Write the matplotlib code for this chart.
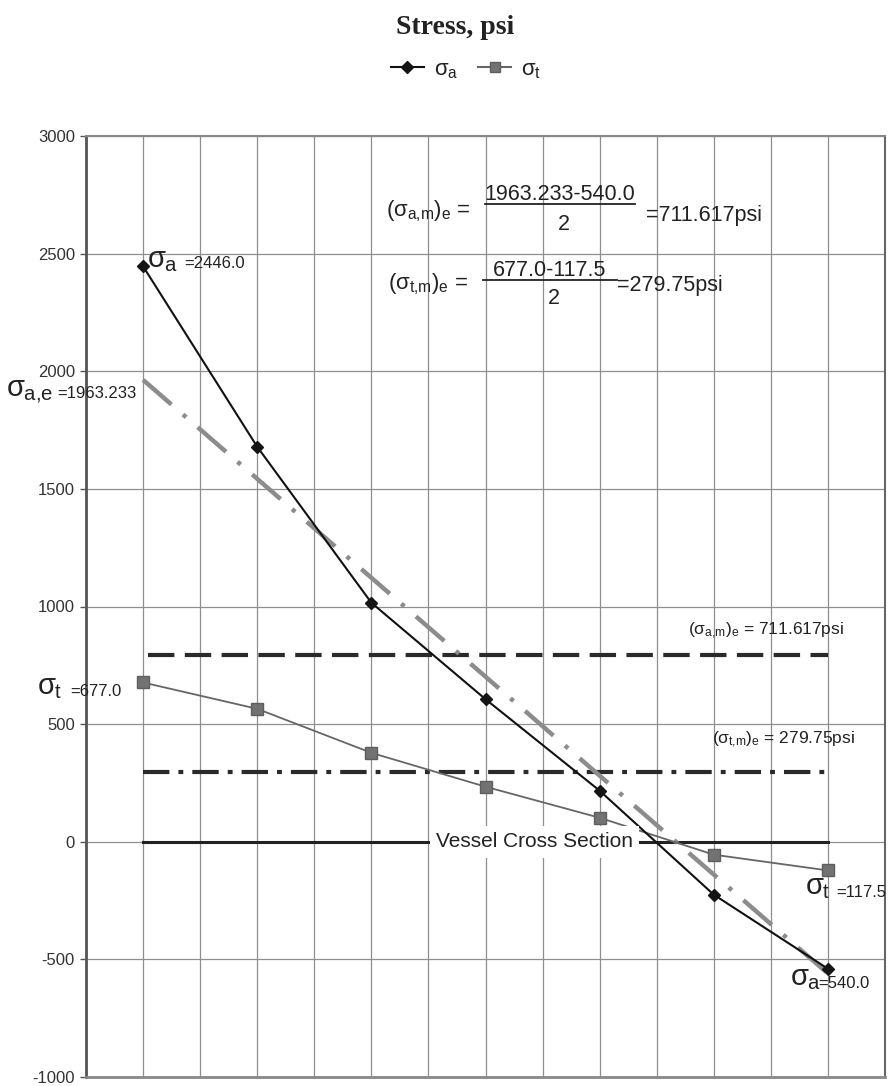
import matplotlib
matplotlib.use("Agg")
import matplotlib.pyplot as plt
from matplotlib.lines import Line2D

# ---------------- data ----------------
x_pos = [1, 3, 5, 7, 9, 11, 13]                      # category positions across section
sigma_a = [2446.0, 1679, 1016, 606, 217, -225, -540.0]  # axial stress, psi
sigma_t = [677.0, 565, 378, 234, 102, -55, -122]        # tangential stress, psi
sigma_ae = [1963.233, -560]                          # linearized equivalent line (ends)
mean_a_level = 795                                    # drawn (sigma_a,m)_e line
mean_t_level = 297                                    # drawn (sigma_t,m)_e line
y_ticks = list(range(-1000, 3001, 500))

# ---------------- style ----------------
plt.rcParams["font.family"] = ["Liberation Sans", "DejaVu Sans"]
plt.rcParams["mathtext.fontset"] = "custom"
plt.rcParams["mathtext.rm"] = "Liberation Sans"
plt.rcParams["mathtext.it"] = "Liberation Sans"
plt.rcParams["mathtext.bf"] = "Liberation Sans:bold"
plt.rcParams["mathtext.sf"] = "Liberation Sans"
plt.rcParams["lines.scale_dashes"] = False
plt.rcParams["axes.unicode_minus"] = False

W, H = 890, 1086
fig = plt.figure(figsize=(W / 100, H / 100), dpi=100)
fig.patch.set_facecolor("white")


def P(x, y):
    return (x / W, 1 - y / H)


ax = fig.add_axes([86 / W, 1 - 1077 / H, (885 - 86) / W, (1077 - 136) / H])
ax.set_xlim(0, 14)
ax.set_ylim(-1000, 3000)
ax.set_xticks(range(0, 15))
ax.set_yticks(y_ticks)
ax.tick_params(axis="x", length=0, labelbottom=False)
ax.tick_params(axis="y", length=4.5, width=1, color="#555555", labelsize=12,
               labelcolor="#333333", pad=3.5)
ax.grid(True, color="#8f8f8f", lw=0.9, zorder=0)
ax.set_axisbelow(True)
ax.spines["left"].set_color("#555555"); ax.spines["left"].set_linewidth(2)
ax.spines["bottom"].set_color("#888888"); ax.spines["bottom"].set_linewidth(2)
ax.spines["top"].set_color("#888888"); ax.spines["top"].set_linewidth(1.5)
ax.spines["right"].set_color("#666666"); ax.spines["right"].set_linewidth(1.5)

# reference lines
ax.plot([x_pos[0], x_pos[-1]], [0, 0], color="#222222", lw=2.2, zorder=3)
ax.plot([x_pos[0] + 0.08, x_pos[-1]], [mean_a_level, mean_a_level], color="#2a2a2a",
        lw=3, dashes=(19, 7.5), dash_capstyle="butt", zorder=3)
ax.plot([x_pos[0], x_pos[-1] - 0.05], [mean_t_level, mean_t_level], color="#2a2a2a",
        lw=3, dashes=(19, 6.5, 3.5, 6.5), dash_capstyle="butt", zorder=3)

# series
ax.plot(x_pos, sigma_t, color="#666666", lw=1.3, marker="s", ms=8.5,
        mfc="#727272", mec="#5e5e5e", zorder=5)
ax.plot(x_pos, sigma_a, color="#111111", lw=1.5, marker="D", ms=6.5,
        mfc="#151515", mec="#151515", zorder=6)
ax.plot([x_pos[0], x_pos[-1]], sigma_ae, color="#8c8c8c", lw=3.2,
        dashes=(27, 11, 3, 11), dash_capstyle="butt", zorder=4)

# Vessel Cross Section label (covers lines behind it)
ax.text(7.86, 0, "Vessel Cross Section", fontsize=15, color="#222222",
        ha="center", va="center", zorder=10,
        bbox=dict(boxstyle="square,pad=0.3", fc="white", ec="none"))

# ---------------- title & legend ----------------
fig.text(*P(455, 27), "Stress, psi", family=["Liberation Serif"], weight="bold",
         fontsize=20, ha="center", va="center", color="#222222")
handles = [Line2D([], [], color="#111111", lw=1.5, marker="D", ms=6, mfc="#151515", mec="#151515"),
           Line2D([], [], color="#666666", lw=1.5, marker="s", ms=7.5, mfc="#727272", mec="#5e5e5e")]
fig.legend(handles, [r"$\sigma_a$", r"$\sigma_t$"], loc="center",
           bbox_to_anchor=P(466, 70), ncol=2, frameon=False, fontsize=16,
           handlelength=1.5, handletextpad=0.45, columnspacing=0.9, labelcolor="#222222")

# ---------------- annotations ----------------
def sig_label(x, y_base, sym, val, x_val, y_val):
    fig.text(*P(x, y_base), sym, fontsize=21, ha="left", va="baseline", color="#222222")
    fig.text(*P(x_val, y_val), val, fontsize=12, ha="left", va="baseline", color="#222222")


sig_label(147, 267, r"$\sigma_a$", "=2446.0", 184, 268)
sig_label(6, 397, r"$\sigma_{a{,}e}$", "=1963.233", 57, 398)
sig_label(37, 694, r"$\sigma_t$", "=677.0", 70, 696)
sig_label(805, 894, r"$\sigma_t$", "=117.5", 836, 897)
sig_label(790, 985, r"$\sigma_a$", "=540.0", 818, 988)

# formulas at top
def formula(x_left, y_mid, lhs, num, bar_x0, bar_x1, y_num, y_bar, y_den, rhs, x_rhs, y_rhs):
    fig.text(*P(x_left, y_mid), lhs, fontsize=16, ha="left", va="center", color="#222222")
    xc = (bar_x0 + bar_x1) / 2
    fig.text(*P(xc, y_num), num, fontsize=15.5, ha="center", va="center", color="#222222")
    fig.text(*P(xc + 4, y_den), "2", fontsize=15.5, ha="center", va="center", color="#222222")
    fig.add_artist(Line2D([bar_x0 / W, bar_x1 / W], [1 - y_bar / H, 1 - y_bar / H],
                          color="#222222", lw=1.3))
    fig.text(*P(x_rhs, y_rhs), rhs, fontsize=15.5, ha="left", va="center", color="#222222")


formula(386, 211, r"$(\sigma_{a{,}m})_e$ =", "1963.233-540.0", 485, 635, 195, 204, 224,
        "=711.617psi", 646, 215)
formula(388, 284, r"$(\sigma_{t{,}m})_e$ =", "677.0-117.5", 483, 617, 271, 280, 298,
        "=279.75psi", 617, 285)

# level labels on the right
fig.text(*P(688, 631), r"$(\sigma_{a{,}m})_e$ = 711.617psi", fontsize=12.5, ha="left",
         va="center", color="#222222")
fig.text(*P(712, 740), r"$(\sigma_{t{,}m})_e$ = 279.75psi", fontsize=12.5, ha="left",
         va="center", color="#222222")

fig.savefig("out.png", dpi=100, facecolor="white")
